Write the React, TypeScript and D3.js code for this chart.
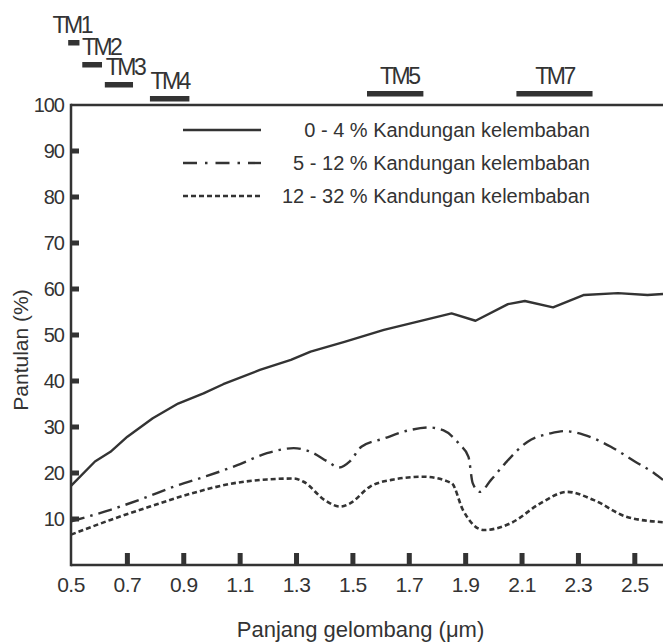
import React from "react";
import * as d3 from "d3";

const width = 663;
const height = 643;
const margin = { top: 105, right: 0, bottom: 78, left: 71 };

// x axis: wavelength (um), y axis: reflectance (%)
const xTicks = [0.5, 0.7, 0.9, 1.1, 1.3, 1.5, 1.7, 1.9, 2.1, 2.3, 2.5];
const yTicks = [10, 20, 30, 40, 50, 60, 70, 80, 90, 100];

// 0 - 4 % moisture
const dryWl = [0.5, 0.585, 0.64, 0.7, 0.79, 0.88, 0.97, 1.04, 1.17, 1.28, 1.35, 1.47, 1.61, 1.73, 1.85, 1.935, 2.05, 2.11, 2.21, 2.32, 2.44, 2.545, 2.6];
const dryVal = [17.2, 22.5, 24.6, 27.9, 31.9, 35.1, 37.3, 39.3, 42.4, 44.6, 46.4, 48.5, 51.1, 52.9, 54.7, 53.1, 56.7, 57.4, 56.0, 58.7, 59.1, 58.7, 58.9];

// 5 - 12 % moisture
const midWl = [0.5, 0.64, 0.757, 0.863, 0.98, 1.09, 1.195, 1.29, 1.35, 1.41, 1.45, 1.49, 1.53, 1.61, 1.7, 1.77, 1.82, 1.88, 1.91, 1.925, 1.95, 1.99, 2.04, 2.12, 2.2, 2.25, 2.32, 2.415, 2.5, 2.57, 2.6];
const midVal = [9.5, 12.0, 14.5, 17.0, 19.3, 21.7, 24.3, 25.4, 24.6, 22.5, 21.2, 22.6, 25.7, 27.5, 29.3, 29.9, 29.3, 26.1, 23.5, 17.8, 15.9, 18.5, 22.1, 26.8, 28.6, 29.1, 28.3, 25.7, 22.5, 19.9, 18.5];

// 12 - 32 % moisture
const wetWl = [0.5, 0.64, 0.78, 0.93, 1.08, 1.195, 1.29, 1.325, 1.4, 1.455, 1.49, 1.56, 1.645, 1.75, 1.85, 1.89, 1.965, 2.06, 2.165, 2.26, 2.355, 2.47, 2.6];
const wetVal = [6.6, 9.8, 12.7, 15.6, 17.8, 18.6, 18.8, 18.1, 14.1, 12.7, 13.4, 17.0, 18.6, 19.2, 17.8, 12.0, 7.6, 9.1, 13.4, 15.9, 14.1, 10.5, 9.3];

const seriesLabels = [
  "0 - 4 % Kandungan kelembaban",
  "5 - 12 % Kandungan kelembaban",
  "12 - 32 % Kandungan kelembaban",
];

// Landsat TM bands (um)
const bandNames = ["TM1", "TM2", "TM3", "TM4", "TM5", "TM7"];
const bandStart = [0.49, 0.54, 0.62, 0.78, 1.55, 2.08];
const bandEnd = [0.53, 0.61, 0.72, 0.92, 1.75, 2.35];

// layout for the band bars (pixel rows, label nudges)
const bandRowY = [40, 62, 82, 96, 91, 91];
const bandLabelDx = [-2, 9, 6, 0, 4, 0];

const ink = "#333";
const font = "'Liberation Sans', Arial, sans-serif";

const App = () => {
  const x = d3
    .scaleLinear()
    .domain([0.5, 2.6])
    .range([margin.left, width - margin.right]);
  const y = d3
    .scaleLinear()
    .domain([0, 100])
    .range([height - margin.bottom, margin.top]);

  const line = d3
    .line<[number, number]>()
    .x((d) => x(d[0]))
    .y((d) => y(d[1]));
  const smooth = d3
    .line<[number, number]>()
    .x((d) => x(d[0]))
    .y((d) => y(d[1]))
    .curve(d3.curveMonotoneX);

  const zip = (a: number[], b: number[]) => a.map((v, i) => [v, b[i]] as [number, number]);

  const styles = [
    { dash: "none", width: 2.4 },
    { dash: "14 6 2.5 6", width: 2.4 },
    { dash: "5 3", width: 2.6 },
  ];
  const paths = [
    line(zip(dryWl, dryVal)),
    smooth(zip(midWl, midVal)),
    smooth(zip(wetWl, wetVal)),
  ];

  const x0 = x(0.5);
  const yBase = y(0);
  const yTop = y(100);
  const legendY = [130, 163, 196];

  return (
    <svg
      width={width}
      height={height}
      style={{ position: "absolute", left: 0, top: 0, background: "#fff" }}
      fontFamily={font}
    >
      <rect width={width} height={height} fill="#fff" />

      {/* band bars */}
      {bandNames.map((name, i) => {
        const x1 = x(bandStart[i]);
        const x2 = x(bandEnd[i]);
        return (
          <g key={name}>
            <rect x={x1} y={bandRowY[i]} width={x2 - x1} height={5.5} fill={ink} />
            <text
              x={(x1 + x2) / 2 + bandLabelDx[i]}
              y={bandRowY[i] - 7}
              textAnchor="middle"
              fontSize={23}
              letterSpacing={-2.5}
              fill={ink}
            >
              {name}
            </text>
          </g>
        );
      })}

      {/* frame */}
      <line x1={x0} x2={width} y1={yTop} y2={yTop} stroke={ink} strokeWidth={2.5} />
      <line x1={x0} x2={x0} y1={yTop - 1.2} y2={yBase + 1.2} stroke={ink} strokeWidth={2.5} />
      <line x1={x0} x2={width} y1={yBase} y2={yBase} stroke={ink} strokeWidth={2.5} />

      {/* y ticks */}
      {yTicks.map((t) => (
        <g key={t}>
          {t < 100 && <rect x={x0} y={y(t) - 2.5} width={8} height={5} fill={ink} />}
          <text
            x={x0 - 7}
            y={y(t)}
            dy="0.36em"
            textAnchor="end"
            fontSize={20}
            letterSpacing={-1}
            fill={ink}
          >
            {t}
          </text>
        </g>
      ))}

      {/* x ticks */}
      {xTicks.map((t) => (
        <g key={t}>
          {t > 0.5 && <rect x={x(t) - 2.5} y={yBase - 12} width={5} height={12} fill={ink} />}
          <text
            x={x(t)}
            y={yBase + 27}
            textAnchor="middle"
            fontSize={21}
            letterSpacing={-0.5}
            fill={ink}
          >
            {t.toFixed(1)}
          </text>
        </g>
      ))}

      {/* series */}
      {paths.map((p, i) => (
        <path
          key={i}
          d={p || ""}
          fill="none"
          stroke={ink}
          strokeWidth={styles[i].width}
          strokeDasharray={styles[i].dash}
          strokeLinejoin="round"
        />
      ))}

      {/* legend */}
      {seriesLabels.map((label, i) => (
        <g key={label}>
          <line
            x1={183}
            x2={261}
            y1={legendY[i]}
            y2={legendY[i]}
            stroke={ink}
            strokeWidth={styles[i].width}
            strokeDasharray={i === 1 ? "14 8 2.5 8" : styles[i].dash}
          />
          <text
            x={590}
            y={legendY[i]}
            dy="0.36em"
            textAnchor="end"
            fontSize={20}
            fill={ink}
          >
            {label}
          </text>
        </g>
      ))}

      {/* axis titles */}
      <text
        x={(x0 + 650) / 2}
        y={637}
        textAnchor="middle"
        fontSize={22}
        fill={ink}
      >
        Panjang gelombang (μm)
      </text>
      <text
        transform={`translate(28, ${(415 + 285) / 2}) rotate(-90)`}
        textAnchor="middle"
        fontSize={21}
        fill={ink}
      >
        Pantulan (%)
      </text>
    </svg>
  );
};

export default App;
